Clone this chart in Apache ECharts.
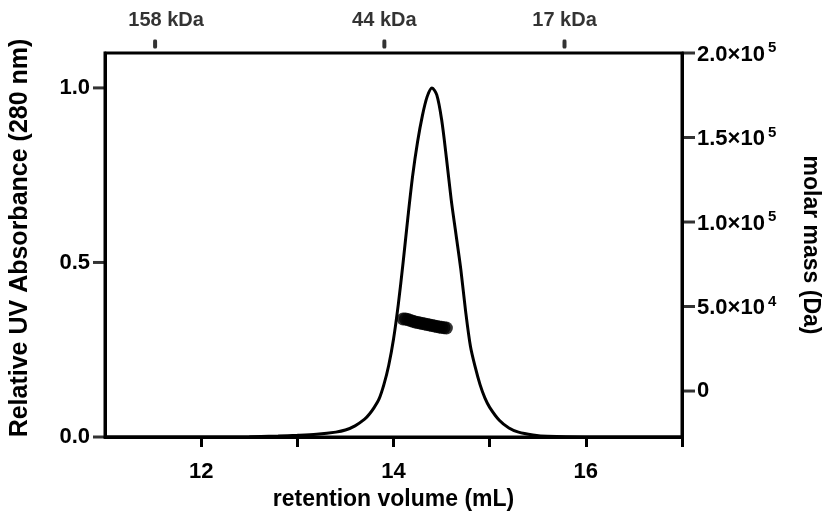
<!DOCTYPE html>
<html>
<head>
<meta charset="utf-8">
<script src="https://cdn.jsdelivr.net/npm/echarts@6/dist/echarts.min.js"></script>
<style>html,body{margin:0;padding:0;background:#fff}#c{width:830px;height:518px}</style>
</head>
<body>
<div id="c"></div>
<script>
// UV trace: [retention volume (mL), relative absorbance]
var uvVolume = [11.0,12.0,12.5,12.8,13.0,13.2,13.4,13.5,13.6,13.7,13.75,13.8,13.85,13.9,13.95,14.0,14.05,14.1,14.15,14.2,14.25,14.3,14.35,14.4,14.45,14.5,14.55,14.6,14.65,14.7,14.75,14.8,14.85,14.9,14.95,15.0,15.1,15.2,15.3,15.45,15.6,16.0,17.0];
var uvAbs =    [0,0,0.001,0.003,0.005,0.008,0.014,0.02,0.032,0.051,0.066,0.085,0.109,0.150,0.205,0.28,0.38,0.50,0.63,0.75,0.845,0.92,0.975,1.0,0.98,0.91,0.80,0.68,0.58,0.48,0.36,0.26,0.20,0.15,0.112,0.085,0.048,0.026,0.014,0.006,0.002,0,0];
// Molar mass points
var mmVolume = [14.100,14.125,14.150,14.175,14.200,14.225,14.250,14.275,14.300,14.325,14.350,14.375,14.400,14.425,14.450,14.475,14.500,14.525,14.550];
var mmMass =   [42600,42600,42300,41800,41300,40900,40600,40300,40000,39700,39400,39100,38800,38500,38200,37900,37700,37500,37300];
// Axis ticks
var xTicks = [12,13,14,15,16,17];
var xLabels = [12,14,16];
var leftTicks = [0,0.5,1.0];
var rightTicks = [0,50000,100000,150000,200000];
// Calibration standards on top axis
var stdPos = [11.52,13.90,15.77];
var stdLabels = ['158 kDa','44 kDa','17 kDa'];

var FONT = '"Liberation Sans", Arial, sans-serif';
var LEFT_MIN = 0, LEFT_MAX = 1.1, RIGHT_MIN = -27200, RIGHT_MAX = 200000;
var uvData = uvVolume.map(function(v,i){return [v, uvAbs[i]];});
var mmData = mmVolume.map(function(v,i){return [v, mmMass[i]];});
var stdData = stdPos.map(function(v,i){
  var item = {value:[v, 0.5]};
  if (i === 0) item.label = {offset:[11,0]};
  return item;
});
var leftTickData = leftTicks.map(function(v){return [0.5, v];});
var rightTickData = rightTicks.map(function(v){return [0.5, v];});

function sci(v){
  if (v === 0) return '{b|0}';
  var e = Math.floor(Math.log10(v));
  var m = v / Math.pow(10,e);
  return '{b|' + m.toFixed(1) + '×10}{s|' + e + '}';
}
var titleStyle = {color:'#000',fontFamily:FONT,fontWeight:'bold',fontSize:23};

var chart = echarts.init(document.getElementById('c'), null, {renderer:'canvas'});
chart.setOption({
  animation:false,
  backgroundColor:'#fff',
  grid:[
    {left:105,right:147,top:53,bottom:81,show:true,borderColor:'#000',borderWidth:3,backgroundColor:'transparent'},
    {left:105,right:147,top:39,height:10,show:false},
    {left:93,width:12,top:53,bottom:81,show:false},
    {left:683,width:12,top:53,bottom:81,show:false}
  ],
  xAxis:[{
    type:'value',min:11,max:17,position:'bottom',gridIndex:0,
    axisLine:{show:true,onZero:false,lineStyle:{color:'#000',width:3}},
    axisTick:{show:true,length:10,lineStyle:{color:'#000',width:3},customValues:xTicks},
    axisLabel:{show:true,customValues:xLabels,color:'#000',fontFamily:FONT,fontWeight:'bold',fontSize:22,margin:24},
    splitLine:{show:false},
    name:'retention volume (mL)',nameLocation:'middle',nameGap:50,
    nameTextStyle:titleStyle
  },
  {type:'value',min:11,max:17,gridIndex:1,show:false},
  {type:'value',min:0,max:1,gridIndex:2,show:false},
  {type:'value',min:0,max:1,gridIndex:3,show:false}],
  yAxis:[{
    type:'value',min:LEFT_MIN,max:LEFT_MAX,position:'left',gridIndex:0,
    axisLine:{show:true,onZero:false,lineStyle:{color:'#000',width:3}},
    axisTick:{show:false},
    axisLabel:{show:true,customValues:leftTicks,color:'#000',fontFamily:FONT,fontWeight:'bold',fontSize:22,margin:15,
      formatter:function(v){return v.toFixed(1);}},
    splitLine:{show:false},
    name:'Relative UV Absorbance (280 nm)',nameLocation:'middle',nameGap:72,nameRotate:90,
    nameTextStyle:{color:'#000',fontFamily:FONT,fontWeight:'bold',fontSize:25,padding:[0,0,0,14]}
  },{
    type:'value',min:RIGHT_MIN,max:RIGHT_MAX,position:'right',gridIndex:0,
    axisLine:{show:true,onZero:false,lineStyle:{color:'#000',width:3}},
    axisTick:{show:false},
    axisLabel:{show:true,customValues:rightTicks,color:'#000',margin:15,formatter:sci,
      rich:{
        b:{fontFamily:FONT,fontWeight:'bold',fontSize:22,color:'#000',verticalAlign:'bottom'},
        s:{fontFamily:FONT,fontWeight:'bold',fontSize:15,color:'#000',verticalAlign:'bottom',padding:[0,0,10,3]}
      }},
    splitLine:{show:false},
    name:'molar mass (Da)',nameLocation:'middle',nameGap:117,nameRotate:-90,
    nameTextStyle:titleStyle
  },
  {type:'value',min:0,max:1,gridIndex:1,show:false},
  {type:'value',min:LEFT_MIN,max:LEFT_MAX,gridIndex:2,show:false},
  {type:'value',min:RIGHT_MIN,max:RIGHT_MAX,gridIndex:3,show:false}],
  series:[{
    type:'line',xAxisIndex:0,yAxisIndex:0,data:uvData,smooth:0.3,showSymbol:false,
    lineStyle:{color:'#000',width:3}
  },{
    type:'scatter',xAxisIndex:0,yAxisIndex:1,data:mmData,symbol:'circle',symbolSize:13,
    itemStyle:{color:'#000'}
  },{
    type:'scatter',xAxisIndex:1,yAxisIndex:2,data:stdData,symbol:'roundRect',symbolSize:[4,9],
    itemStyle:{color:'#000'},
    label:{show:true,position:'top',distance:9,color:'#000',fontFamily:FONT,fontWeight:'bold',fontSize:20,
      formatter:function(p){return stdLabels[p.dataIndex];}}
  },{
    // left-axis tick marks
    type:'scatter',xAxisIndex:2,yAxisIndex:3,data:leftTickData,symbol:'rect',symbolSize:[12,3],clip:false,
    itemStyle:{color:'#000'},silent:true
  },{
    // right-axis tick marks
    type:'scatter',xAxisIndex:3,yAxisIndex:4,data:rightTickData,symbol:'rect',symbolSize:[12,3],clip:false,
    itemStyle:{color:'#000'},silent:true
  }]
});
</script>
</body>
</html>
